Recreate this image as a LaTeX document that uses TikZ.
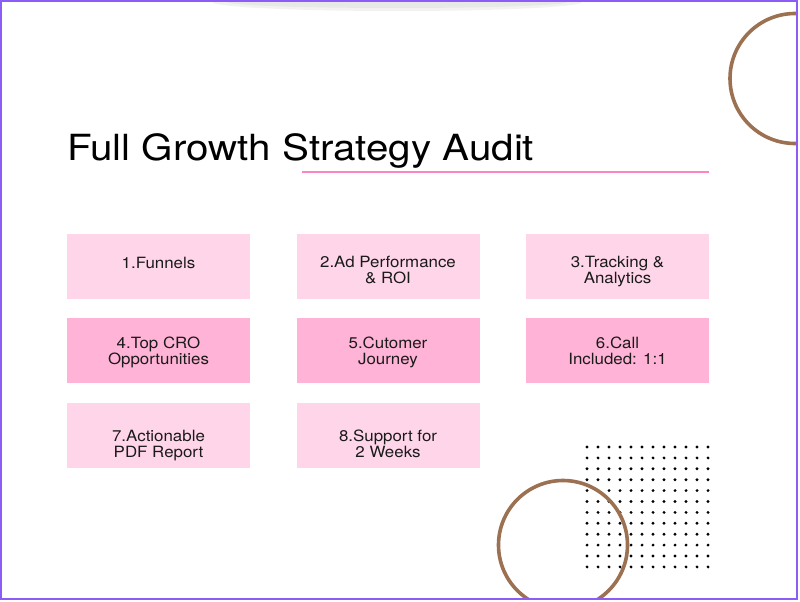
\documentclass[tikz,border=0pt]{standalone}
\usepackage{fontspec}
\setmainfont{TeX Gyre Heros}
\newfontfamily\titlefont[FakeStretch=1.12]{TeX Gyre Heros}
\newfontfamily\boxfont[FakeStretch=1.09]{TeX Gyre Heros}
\definecolor{pinklight}{HTML}{FFD6E9}
\definecolor{pinkdark}{HTML}{FFB3D6}
\definecolor{ringbrown}{HTML}{9C7152}
\definecolor{linepink}{HTML}{FF85C2}
\definecolor{framepurple}{HTML}{8B5CF6}
\definecolor{textdark}{HTML}{1A1A1A}
\tikzset{
  cardlight/.style={fill=pinklight, draw=none, minimum width=183pt, minimum height=65pt, inner sep=0pt},
  carddark/.style={cardlight, fill=pinkdark},
  cardtext/.style={anchor=base, align=center, inner sep=0pt, text=textdark, font=\boxfont\fontsize{15.5}{15.7}\selectfont},
  ring/.style={draw=ringbrown, line width=3.6pt},
}
\begin{document}
\begin{tikzpicture}[x=1pt,y=-1pt]
\useasboundingbox (0,0) rectangle (800,602);
\fill[white] (0,0) rectangle (800,602);
% faint top shadow
\begin{scope}
\clip (2,2) rectangle (796,20);
\fill[black, opacity=0.05] (397,2) ellipse (185 and 9);
\fill[black, opacity=0.04] (397,2) ellipse (170 and 6);
\end{scope}
% title
\node[anchor=base west, inner sep=0pt, text=black, font=\titlefont\fontsize{36}{36}\selectfont] (title) at (67,160) {Full Growth Strategy Audit};
\coordinate (ulA) at (302,172);
\coordinate (ulB) at (709,172);
\draw[linepink, line width=2pt] (ulA) -- (ulB);
% cards
\node[cardlight] (b1) at (158.5,266.5) {};
\node[cardlight] (b2) at (388,266.5) {};
\node[cardlight] (b3) at (617.5,266.5) {};
\node[carddark] (b4) at (158.5,350.5) {};
\node[carddark] (b5) at (388,350.5) {};
\node[carddark] (b6) at (617.5,350.5) {};
\node[cardlight] (b7) at (158.5,435.5) {};
\node[cardlight] (b8) at (388,435.5) {};
\node[cardtext] (t1) at (158.5,268) {1.Funnels};
\node[cardtext] (t2) at (388,283.5) {2.Ad Performance\\\& ROI};
\node[cardtext] (t3) at (617.5,283.5) {3.Tracking \&\\Analytics};
\node[cardtext] (t4) at (158.5,364) {4.Top CRO\\Opportunities};
\node[cardtext] (t5) at (388,364) {5.Cutomer\\Journey};
\node[cardtext] (t6) at (617.5,364) {6.Call\\Included: 1:1};
\node[cardtext] (t7) at (158.5,457) {7.Actionable\\PDF Report};
\node[cardtext] (t8) at (388,457) {8.Support for\\2 Weeks};
% dot grid
\foreach \i in {0,...,11}{
  \foreach \j in {0,...,11}{
    \fill[black] ({587+11*\i},{447+10.9*\j}) circle (1.6);
  }
}
% rings
\begin{scope}
\clip (2,2) rectangle (796,598);
\draw[ring] (795,78.5) circle (65);
\draw[ring] (563,545) circle (64.5);
\end{scope}
% frame
\draw[framepurple, line width=2pt] (1,1) rectangle (797,599);
\end{tikzpicture}
\end{document}
